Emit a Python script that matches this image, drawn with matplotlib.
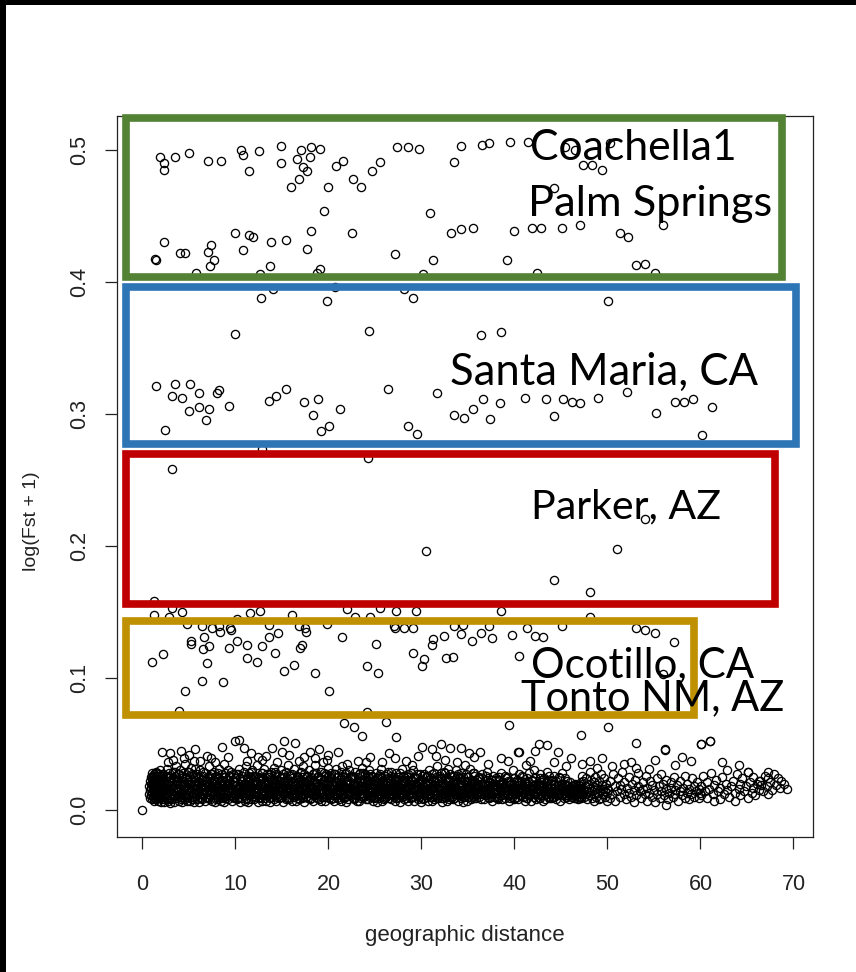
import matplotlib
matplotlib.use('Agg')
import matplotlib.pyplot as plt
from matplotlib.patches import Rectangle

# ---------------- DATA ----------------
x_ticks = [0, 10, 20, 30, 40, 50, 60, 70]
y_ticks = [0.0, 0.1, 0.2, 0.3, 0.4, 0.5]
y_tick_labels = ['0.0', '0.1', '0.2', '0.3', '0.4', '0.5']
x_label = 'geographic distance'
y_label = 'log(Fst + 1)'

# upper cluster (about 0.39 - 0.51)
top_pts = [(1.9,0.495),(2.3,0.490),(2.3,0.485),(3.5,0.495),(5.0,0.498),(7.0,0.492),(8.4,0.492),
    (10.6,0.500),(10.8,0.496),(11.5,0.484),(12.5,0.499),(14.9,0.503),(14.9,0.490),(16.6,0.493),
    (17.0,0.500),(18.1,0.502),(18.0,0.495),(19.1,0.501),(17.3,0.487),(17.7,0.484),(16.8,0.478),
    (16.0,0.472),(19.9,0.472),(20.8,0.488),(21.6,0.492),(22.6,0.478),(23.5,0.472),(24.7,0.484),
    (25.5,0.491),(27.4,0.502),(28.6,0.502),(29.7,0.501),(33.5,0.491),(34.2,0.503),(36.5,0.504),
    (37.3,0.505),(39.5,0.506),(41.5,0.506),(45.4,0.502),(46.5,0.500),(50.3,0.505),(47.4,0.489),
    (48.3,0.489),(49.4,0.485),(44.3,0.471),(19.5,0.454),(30.9,0.452),
    (2.3,0.430),(1.35,0.4175),(1.4,0.4165),(4.0,0.422),(4.6,0.422),(7.4,0.428),(7.0,0.423),
    (7.7,0.417),(7.3,0.412),(9.9,0.437),(11.5,0.436),(11.85,0.434),(10.8,0.424),(13.8,0.430),
    (15.4,0.432),(18.1,0.439),(17.7,0.425),(22.5,0.437),(27.1,0.421),(31.2,0.417),(33.2,0.437),
    (34.2,0.440),(35.5,0.441),(39.9,0.439),(41.85,0.441),(42.9,0.441),(45.1,0.441),(47.0,0.443),
    (51.3,0.437),(52.2,0.434),(56.0,0.443),(39.2,0.417),(53.1,0.413),(54.0,0.414),(55.1,0.407),
    (42.4,0.407),(13.7,0.412),(19.05,0.410),(5.8,0.407),(18.8,0.4066),(12.6,0.406),(30.2,0.406),
    (12.7,0.388),(14.0,0.395),(19.8,0.386),(20.7,0.396),(29.1,0.388),(28.15,0.395),(50.1,0.386)]

# middle cluster (about 0.26 - 0.37)
mid_pts = [(10.0,0.361),(24.35,0.363),(1.4,0.3215),(3.5,0.323),(5.15,0.323),(3.2,0.314),(4.3,0.312),
    (6.1,0.316),(8.2,0.318),(8.0,0.316),(5.0,0.302),(6.1,0.305),(7.15,0.304),(9.3,0.306),(6.8,0.2955),
    (2.45,0.288),(13.6,0.310),(14.35,0.314),(15.4,0.319),(17.4,0.309),(18.9,0.311),(18.3,0.299),
    (21.2,0.304),(19.2,0.287),(20.1,0.291),(26.4,0.319),(31.7,0.316),(28.5,0.291),(29.5,0.285),
    (33.5,0.299),(34.6,0.297),(35.5,0.304),(36.65,0.311),(38.4,0.308),(37.4,0.296),(41.1,0.312),
    (43.4,0.311),(45.25,0.311),(46.15,0.309),(47.0,0.308),(49.0,0.312),(52.1,0.317),(44.3,0.2985),
    (55.2,0.301),(57.3,0.309),(58.2,0.309),(59.2,0.311),(61.2,0.305),(60.2,0.284),(36.4,0.360),
    (38.5,0.362),(12.9,0.2735),(24.2,0.267),(3.2,0.258)]

# isolated points (about 0.16 - 0.23)
parker_pts = [(30.5,0.1965),(54.0,0.2205),(51.0,0.1977),(44.2,0.1742),(48.1,0.1654)]

# lower scattered cluster (about 0.045 - 0.16)
low_pts = [(1.2,0.158),(1.2,0.148),(3.2,0.153),(4.25,0.150),(2.9,0.146),(4.8,0.141),(6.4,0.139),
    (8.2,0.139),(9.45,0.138),(11.6,0.149),(12.6,0.151),(10.2,0.145),(13.6,0.140),(16.1,0.148),
    (16.8,0.139),(17.5,0.138),(19.8,0.141),(22.0,0.152),(22.8,0.1465),(24.5,0.146),(25.5,0.153),
    (27.3,0.151),(29.4,0.151),(27.0,0.139),(29.05,0.138),(33.5,0.139),(34.5,0.140),(38.6,0.151),
    (48.1,0.146),(1.0,0.112),(2.2,0.118),(5.2,0.128),(5.2,0.1255),(6.6,0.131),(6.5,0.122),
    (7.2,0.124),(6.9,0.111),(6.4,0.098),(8.7,0.097),(4.6,0.090),(3.9,0.075),(7.5,0.138),(8.3,0.135),
    (9.5,0.1365),(10.2,0.128),(11.2,0.125),(9.3,0.1225),(11.2,0.115),(12.3,0.112),(12.9,0.124),
    (13.6,0.131),(14.6,0.134),(14.3,0.119),(15.2,0.105),(16.3,0.110),(16.9,0.123),(17.2,0.125),
    (17.6,0.135),(18.6,0.1035),(20.1,0.090),(21.5,0.131),(24.1,0.109),(25.3,0.1035),(25.1,0.126),
    (27.1,0.138),(28.15,0.138),(29.1,0.119),(30.3,0.114),(30.1,0.109),(31.1,0.125),(31.2,0.1295),
    (32.45,0.132),(32.6,0.115),(33.4,0.116),(34.25,0.133),(35.4,0.128),(36.4,0.134),(37.3,0.139),
    (37.55,0.130),(39.7,0.1326),(41.3,0.138),(42.2,0.132),(43.1,0.131),(45.1,0.139),(53.1,0.138),
    (54.0,0.136),(55.1,0.134),(57.2,0.1275),(40.5,0.117),(56.0,0.103),(24.1,0.074),(21.7,0.066),
    (22.7,0.063),(23.6,0.056),(26.2,0.067),(27.3,0.055),(39.4,0.064),(50.1,0.063),(47.1,0.057),
    (53.1,0.0505),(60.1,0.050),(61.0,0.052),(56.2,0.0455),(0.0,0.000)]

# dense band: rows of (distance in tenths, Fst values in thousandths ...)
band_a = [(7,12,18),(8,9,15,22),(9,11,17,25,20),(10,8,13,19,24,28),(11,10,15,21,26,18),
    (12,7,12,16,20,23,27),(13,9,14,18,22,25,20),(14,11,15,19,24,29,26),(15,8,13,17,21,26,11),
    (16,10,14,18,23,28),(17,7,12,16,20,25,22),(18,9,14,19,22,27),(19,11,15,18,24,30,9),(20,6,13,17,21,26)]

band_b = [(21,8,19),(22,14,27),(23,6,22),(24,11,17),(25,25,9),(26,13,31),(27,7,20),(28,16,24),
    (29,10,28),(30,18,5),(31,12,23),(32,21,8),(33,15,29),(34,6,19),(35,26,11),(36,14,33),(37,9,22),
    (38,17,27),(39,12,7),(40,20,30),(41,10,16),(42,24,6),(43,13,19),(44,28,9),(45,15,22),(46,8,35),
    (47,18,12),(48,25,7),(49,11,21),(50,16,29),(51,7,14),(52,22,32),(53,10,18),(54,26,13),(55,6,20),
    (56,15,31),(57,19,9),(58,12,24),(59,27,8),(60,14,17),(61,21,6),(62,10,30),(63,17,13),(64,23,8),
    (65,12,26),(66,19,16),(67,7,28),(68,14,21),(69,25,10),(70,9,18),(71,16,33),(72,20,12),(73,8,24),
    (74,13,27),(75,22,7),(76,11,17),(77,29,14),(78,6,20),(79,18,26),(80,15,10),(81,24,8),(82,12,31),
    (83,19,14),(84,7,22),(85,27,11),(86,16,19),(87,10,25),(88,21,6),(89,13,28),(90,18,9),(91,23,15),
    (92,8,30),(93,14,20),(94,26,11),(95,11,17),(96,20,7),(97,16,27),(98,9,22),(99,24,13),(100,12,18),
    (21,44),(30,43),(41,45),(50,42),(57,46),(69,41),(85,48),(99,52),(33,38),(45,39),(62,37),(78,36),
    (92,40),(27,36),(55,37),(74,39),(88,35)]

band_c = [(101,15,24),(102,8,19),(103,27,12),(104,10,31),(105,18,6),(106,22,14),(107,9,26),(108,16,11),
    (109,29,20),(110,7,17),(111,13,33),(112,24,9),(113,11,21),(114,19,6),(115,14,28),(116,25,12),
    (117,8,18),(118,21,30),(119,12,15),(120,17,8),(121,26,22),(122,10,13),(123,20,34),(124,6,16),
    (125,15,25),(126,23,10),(127,9,19),(128,28,14),(129,12,7),(130,18,24),(131,14,31),(132,22,9),
    (133,7,17),(134,16,27),(135,11,20),(136,25,13),(137,19,6),(138,10,29),(139,24,15),(140,13,21),
    (141,8,32),(142,20,11),(143,15,18),(144,27,7),(145,12,23),(146,17,14),(147,9,26),(148,22,10),
    (149,14,30),(150,18,16),(151,6,21),(152,25,12),(153,11,19),(154,29,8),(155,16,24),(156,13,34),
    (157,21,9),(158,8,17),(159,19,27),(160,12,14),(161,24,7),(162,15,22),(163,10,31),(164,20,13),
    (165,7,18),(166,26,11),(167,14,25),(168,17,8),(169,11,20),(170,23,29),(171,9,15),(172,18,12),
    (173,13,33),(174,27,6),(175,16,21),(176,10,17),(177,22,26),(178,14,9),(179,19,30),(180,8,13),
    (181,25,18),(182,12,23),(183,17,7),(184,21,28),(185,11,15),(186,15,34),(187,28,10),(188,9,20),
    (189,18,25),(190,13,8),(191,23,16),(192,7,29),(193,16,12),(194,20,22),(195,10,19),(196,26,7),
    (197,14,27),(198,19,11),(199,12,32),(200,22,15),
    (104,53),(109,47),(139,47),(152,52),(164,51),(124,40),(174,40),(129,38),(145,36),(158,42),
    (168,37),(185,39),(194,36),(117,43),(133,41),(180,44),(198,38),(112,37),(150,44),(190,46)]

band_d = [(201,17,9),(202,24,13),(203,8,28),(204,19,15),(205,11,22),(206,27,7),(207,14,18),(208,21,31),
    (209,9,12),(210,16,25),(211,23,8),(212,12,19),(213,29,14),(214,7,21),(215,18,33),(216,13,10),
    (217,25,17),(218,10,27),(219,20,6),(220,15,23),(221,8,13),(222,22,30),(223,17,11),(224,12,26),
    (225,26,16),(226,9,20),(227,19,8),(228,14,29),(229,24,12),(230,11,18),(231,21,7),(232,16,25),
    (233,7,14),(234,28,21),(235,13,9),(236,18,32),(237,10,16),(238,23,11),(239,15,27),(240,20,8),
    (241,12,19),(242,26,14),(243,8,23),(244,17,30),(245,22,10),(246,11,17),(247,14,26),(248,25,7),
    (249,9,20),(250,19,13),(251,16,28),(252,6,15),(253,21,24),(254,13,9),(255,27,18),(256,10,12),
    (257,18,31),(258,15,7),(259,23,21),(260,8,16),(261,20,26),(262,12,10),(263,17,19),(264,24,29),
    (265,9,14),(266,14,22),(267,29,8),(268,11,17),(269,19,25),(270,16,11),(271,7,20),(272,22,13),
    (273,13,28),(274,18,9),(275,25,16),(276,10,23),(277,15,6),(278,21,19),(279,12,31),(280,26,12),
    (281,8,17),(282,17,24),(283,14,9),(284,23,15),(285,11,27),(286,19,7),(287,16,20),(288,9,13),
    (289,28,22),(290,13,10),(291,20,30),(292,7,16),(293,15,25),(294,24,11),(295,12,18),(296,18,8),
    (297,10,21),(298,22,27),(299,14,13),(300,17,6),
    (200,42),(210,44),(232,37),(245,40),(258,36),(271,39),(283,37),(296,41),(220,35),(265,43),
    (240,36),(290,34)]

band_e = [(301,12,23),(302,18,8),(303,9,27),(304,21,14),(305,15,19),(306,26,10),(307,7,17),(308,13,30),
    (309,20,12),(310,16,24),(311,10,7),(312,23,18),(313,14,28),(314,8,15),(315,19,21),(316,25,11),
    (317,12,33),(318,17,9),(319,22,16),(320,11,26),(321,28,13),(322,15,6),(323,9,20),(324,18,29),
    (325,13,10),(326,24,17),(327,7,22),(328,16,14),(329,21,31),(330,10,8),(331,27,19),(332,14,12),
    (333,19,25),(334,8,16),(335,23,9),(336,12,21),(337,17,30),(338,26,14),(339,11,7),(340,15,24),
    (341,20,11),(342,9,18),(343,24,28),(344,13,15),(345,18,6),(346,10,22),(347,22,13),(348,16,27),
    (349,7,19),(350,25,10),(351,14,17),(352,19,31),(353,11,8),(354,21,23),(355,15,12),(356,28,18),
    (357,9,26),(358,17,14),(359,12,9),(360,23,20),(361,16),(362,10,25),(363,20),(364,13,8),(365,27),
    (366,18,15),(367,8),(368,22,11),(369,14),(370,11,29),(371,19),(372,24,13),(373,9),(374,16,21),
    (375,12),(376,7,18),(377,26),(378,15,10),(379,20),(380,13,24),(381,10),(382,18,8),(383,23),
    (384,11,16),(385,28),(386,14,20),(387,8),(388,21,12),(389,17),(390,9,26),(391,15),(392,25,11),
    (393,12),(394,19,7),(395,22),(396,14,17),(397,10),(398,16,30),(399,24),(400,8,13),
    (301,48),(311,46),(321,50),(331,47),(342,47),(351,43),(363,44),(386,39),(405,44),(325,38),
    (338,36),(356,40),(372,35),(393,37),(316,41),(347,34)]

band_f = [(401,17,9),(402,12),(403,23,14),(404,8),(405,19,27),(406,11),(407,15,22),(408,26),(409,10,18),
    (410,13),(411,21,7),(412,16),(413,9,24),(414,20),(415,14,11),(416,28),(417,12,17),(418,7),
    (419,22,15),(420,18),(421,10,30),(422,25),(423,13,8),(424,16),(425,20,12),(426,9),(427,27,18),
    (428,14),(429,11,23),(430,19),(431,15,7),(432,24),(433,8,16),(434,21),(435,12,29),(436,17),
    (437,26,10),(438,13),(439,9,20),(440,23),(441,16,12),(442,10),(443,19,26),(444,14),(445,22,8),
    (446,11),(447,15,18),(448,25),(449,7,13),(450,20),(451,12,28),(452,17),(453,9,15),(454,24),
    (455,14,10),(456,19),(457,11,22),(458,16),(459,8,13),(460,21),(461,13,17),(462,10,15),(463,18,12),
    (464,14,9),(465,16,20),(466,11,14),(467,15,17),(468,12,13),(469,19,10),(470,14,16),(471,9,21),
    (472,17),(473,13,26),(474,22),(475,10,15),(476,18),(477,12,24),(478,8),(479,20,14),(480,16),
    (481,11,29),(482,23),(483,14,9),(484,18),(485,7,21),(486,15),(487,25,12),(488,10),(489,17,19),
    (490,13),(491,22,8),(492,15),(493,9,27),(494,19),(495,12,16),(496,24),(497,10,14),(498,20),
    (499,13,7),(500,17),
    (404,44),(417,37),(422,45),(426,50),(435,49),(447,44),(461,39),(473,35),(481,37),(494,39),
    (412,34),(455,33),(489,32),(442,36)]

band_g = [(501,15),(503,22,9),(505,12),(506,27),(508,18,7),(510,14),(511,24),(513,10,19),(515,16),
    (516,29),(518,12,21),(520,8),(521,17),(523,25,13),(525,10),(526,20),(528,15,6),(530,23),(531,11),
    (533,18,28),(535,14),(536,9),(538,21,16),(540,12),(541,26),(543,17,7),(545,13),(546,22),
    (548,10,19),(550,15),(551,6),(553,24,12),(555,18),(556,9),(558,14,27),(560,20),(561,11),
    (563,16,23,4),(565,8),(566,13),(568,21,17),(570,10),(571,25),(573,15,12),(575,19),(576,7),
    (578,22,14),(580,11),(581,17),(583,26,9),(585,13),(586,20),(588,16,8),(590,12),(591,24),
    (593,18,10),(595,14),(596,21),(598,9,16),(600,13),
    (505,33),(518,35),(531,32),(551,38),(562,46),(573,34),(580,40),(590,37),(545,31),(525,36)]

band_h = [(601,18,11),(603,26),(605,14),(607,9,21),(609,16),(611,28),(613,12),(615,19,7),(617,23),
    (619,14),(621,8,17),(623,25),(625,12),(627,20),(629,15,30),(631,10),(633,18),(635,22),(637,13,7),
    (639,27),(641,16),(643,11,20),(645,24),(647,14),(649,18),(651,9,29),(653,21),(655,13),(657,17,25),
    (659,11),(661,20),(663,15,22),(665,19),(667,14),(669,26),(671,18),(673,12,24),(675,21),(677,15),
    (679,27),(681,19),(683,24),(685,17),(687,22),(690,20),(693,16),
    (601,50),(610,52),(623,36),(641,34),(651,29),(673,29),(664,22)]

# further points inside the solid core of the band
band_core = [(11,16,25),(13,21,9),(15,12,28),(17,19,14),(19,23,10),(21,15,27),(23,10,18),(25,20,13),
    (27,26,8),(29,14,22),(31,9,19),(33,24,12),(35,17,29),(37,11,21),(39,27,15),(41,13,8),(43,22,26),
    (45,18,11),(47,10,24),(49,29,16),(51,14,20),(53,8,27),(55,21,12),(57,16,23),(59,11,19),(61,25,14),
    (63,18,9),(65,13,29),(67,23,16),(69,9,20),(71,19,26),(73,15,11),(75,27,18),(77,12,22),(79,21,8),
    (81,17,28),(83,10,15),(85,23,20),(87,14,9),(89,20,25),(91,11,18),(93,26,13),(95,16,29),(97,22,10),
    (99,13,21),(101,19,27),(103,9,16),(105,24,12),(107,15,22),(109,11,19),(111,20,8),(113,17,26),
    (115,23,14),(117,12,29),(119,26,19),(121,14,10),(123,21,17),(125,9,24),(127,18,13),(129,24,28),
    (131,11,20),(133,20,12),(135,15,25),(137,27,9),(139,12,18),(141,23,14),(143,16,29),(145,10,21),
    (147,20,15),(149,25,10),(151,13,27),(153,18,22),(155,9,14),(157,22,19),(159,14,26),(161,27,11),
    (163,16,18),(165,12,23),(167,21,9),(169,15,28),(171,25,17),(173,10,21),(175,19,12),(177,13,25),
    (179,23,15),(181,17,9),(183,11,27),(185,21,20),(187,14,12),(189,26,18),(191,18,24),(193,10,14),
    (195,23,28),(197,15,10),(199,20,21),(201,12,26),(203,25,16),(205,16,9),(207,22,27),(209,11,19),
    (211,19,14),(213,14,24),(215,26,11),(217,9,18),(219,21,28),(221,17,12),(223,12,20),(225,24,15),
    (227,15,25),(229,20,9),(231,13,17),(233,27,22),(235,18,13),(237,10,28),(239,22,18),(241,15,11),
    (243,25,21),(245,13,27),(247,19,16),(249,10,23),(251,22,10),(253,17,19),(255,12,26),(257,24,14),
    (259,14,21),(261,9,17),(263,21,27),(265,16,12),(267,26,20),(269,12,15),(271,18,24),(273,23,9),
    (275,14,19),(277,20,28),(279,10,13),(281,22,21),(283,16,26),(285,25,12),(287,12,18),(289,19,23),
    (291,15,10),(293,24,16),(295,11,27),(297,20,13),(299,16,22),(301,26,17),(303,13,11),(305,19,25),
    (307,23,14),(309,10,21),(311,17,27),(313,14,12),(315,22,18),(317,9,24),(319,18,15),(321,24,9),
    (323,13,20),(325,20,28),(327,16,13),(329,11,23),(331,23,17),(333,15,10),(335,26,21),(337,12,16),
    (339,19,27),(341,14,13),(343,21,19),(345,10,25),(347,17,11),(349,25,22),(351,13,16),(353,20,10),
    (355,16,28),(357,22,14),(359,11,19),(361,18,24),(363,14,12),(365,24,20),(367,12,15),(369,19,26),
    (371,15,10),(373,21,17),(375,10,23),(377,17,13),(379,23,19),(381,13,9),(383,20,25),(385,15,16),
    (387,11,21),(389,18,12),(391,24,18),(393,14,22),(395,19,9),(397,12,16),(399,21,24),(401,16,13),
    (403,10,19),(405,22,15),(407,14,11),(409,18,25),(411,12,17),(413,20,9),(415,15,21),(417,11,14),
    (419,23,18),(421,17,12),(423,13,20),(425,19,16),(427,9,24),(429,21,11),(431,15,18),(433,12,14),
    (435,18,22),(437,14,9),(439,22,17),(441,10,13),(443,17,20),(445,13,15),(447,19,11),(449,15,24),
    (451,11,17),(453,20,13),(455,14,19),(457,16,10),(459,12,15),(462,12,18),(464,16,11),(466,9,19),
    (468,15,8),(470,12,18),(472,10,14),(474,16,12)]

# annotation boxes: label lines, colour
box_colors = ['#548235', '#2E75B6', '#C00000', '#BF9000']
box_labels = [['Coachella1', 'Palm Springs'], ['Santa Maria, CA'], ['Parker, AZ'], ['Ocotillo, CA', 'Tonto NM, AZ']]

# ---------------- FIGURE ----------------
W, H = 856, 972
fig = plt.figure(figsize=(W / 100, H / 100), dpi=100)
fig.patch.set_facecolor('white')

def fx(px):
    return px / W

def fy(py):
    return 1 - py / H

ax = fig.add_axes([fx(117), fy(837), fx(813) - fx(117), fy(116) - fy(837)])
ax.set_xlim(-2.74, 72.10)
ax.set_ylim(-0.0205, 0.5258)

def expand(rows):
    xs, ys = [], []
    for r in rows:
        for v in r[1:]:
            xs.append(r[0] / 10.0)
            ys.append(v / 1000.0)
    return xs, ys

all_x, all_y = [], []
for band in [band_a, band_b, band_c, band_d, band_e, band_f, band_g, band_h, band_core]:
    bx, by = expand(band)
    all_x += bx
    all_y += by
for grp in [low_pts, parker_pts, mid_pts, top_pts]:
    all_x += [p[0] for p in grp]
    all_y += [p[1] for p in grp]

ax.plot(all_x, all_y, linestyle='none', marker='o', markersize=5.9,
        markerfacecolor='none', markeredgecolor='black', markeredgewidth=0.95)

for s in ax.spines.values():
    s.set_linewidth(0.9)
    s.set_color('#222222')

ax.set_xticks(x_ticks)
ax.set_xticklabels([str(v) for v in x_ticks])
ax.set_yticks(y_ticks)
ax.set_yticklabels(y_tick_labels)
ax.tick_params(axis='both', direction='out', length=8.6, width=0.9, color='#222222',
               labelsize=15.5, labelcolor='#222222')
ax.tick_params(axis='x', pad=18)
ax.tick_params(axis='y', pad=11, labelrotation=90)
for lab in ax.get_yticklabels():
    lab.set_va('center')
    lab.set_family('Liberation Sans')
for lab in ax.get_xticklabels():
    lab.set_family('Liberation Sans')

fig.text(fx(465), fy(941), x_label, ha='center', va='baseline', fontsize=16,
         family='Liberation Sans', color='#222222')
fig.text(fx(36), fy(521), y_label, ha='center', va='baseline', rotation=90,
         rotation_mode='anchor', fontsize=14, family='Liberation Sans', color='#222222')

# black frame strips of the screenshot
fig.add_artist(Rectangle((0, fy(5)), 1, 5 / H, transform=fig.transFigure,
                         facecolor='black', edgecolor='none', zorder=5))
fig.add_artist(Rectangle((0, 0), 6 / W, 1, transform=fig.transFigure,
                         facecolor='black', edgecolor='none', zorder=5))

# annotation boxes (pixel geometry of centre lines)
box_geom = [(126, 118, 782, 277), (126, 287, 796, 444), (126, 454, 774.5, 604), (126, 621, 694, 715)]
for (x0, y0, x1, y1), c in zip(box_geom, box_colors):
    fig.add_artist(Rectangle((fx(x0), fy(y1)), fx(x1) - fx(x0), fy(y0) - fy(y1),
                             transform=fig.transFigure, fill=False, edgecolor=c,
                             linewidth=5.5, joinstyle='miter', zorder=3))

# labels: (left px, baseline px, target width px)
text_geom = [[(530, 160, 207), (528, 216, 244)], [(450, 385, 308)], [(531, 518, 190)],
             [(531, 677, 223), (521, 710, 263)]]
fig.canvas.draw()
renderer = fig.canvas.get_renderer()
for lines, geoms in zip(box_labels, text_geom):
    for s, (lx, by, tw) in zip(lines, geoms):
        t = fig.text(fx(lx), fy(by), s, ha='left', va='baseline', fontsize=30,
                     family='Lato', color='black', zorder=6)
        bb = t.get_window_extent(renderer=renderer)
        t.set_fontsize(30 * tw / bb.width)

fig.savefig('out.png', dpi=100, facecolor='white')
